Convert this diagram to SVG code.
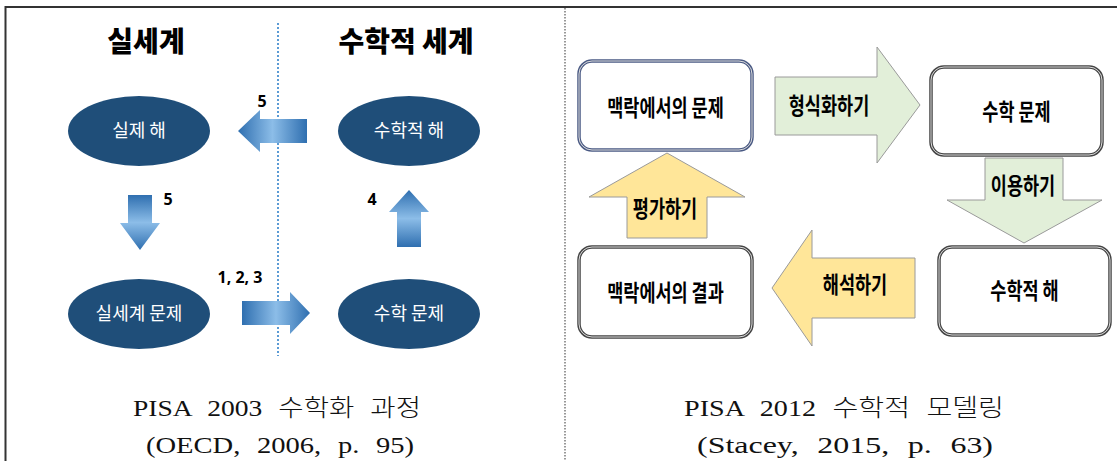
<svg xmlns="http://www.w3.org/2000/svg" width="1117" height="461" viewBox="0 0 1117 461">
<defs>
<style>
.frame{stroke:#333;stroke-width:2;fill:none}
.div{stroke:#555;stroke-width:1.2;stroke-dasharray:1.5,1.5;fill:none}
.blueDot{stroke:#5b9bd5;stroke-width:2;stroke-dasharray:2,2;fill:none}
.ell{fill:#1f4e79}
.ellT{fill:#fff;font-family:"Noto Sans CJK KR",sans-serif;font-size:18px;text-anchor:middle}
.title{fill:#000;font-family:"Noto Sans CJK KR",sans-serif;font-weight:900;font-size:28px;text-anchor:middle}
.num{fill:#000;font-family:"Noto Sans","Liberation Sans",sans-serif;font-weight:bold;font-size:16px;text-anchor:middle}
.cap{fill:#111;font-family:"Liberation Serif","Noto Sans CJK KR",serif;font-size:24px;font-weight:300;word-spacing:8px;text-anchor:middle}
.boxO{fill:#fff;stroke:#444;stroke-width:3.5}
.boxOb{fill:#fff;stroke:#4a5a84;stroke-width:3.5}
.boxI{fill:none;stroke:#ddd;stroke-width:1}
.lb{fill:#000;font-family:"Noto Sans CJK KR",sans-serif;font-weight:bold;font-size:17.5px;text-anchor:middle}
.green{fill:#e2efd9;stroke:#9a9a9a;stroke-width:1}
.yellow{fill:#ffe699;stroke:#9a9a9a;stroke-width:1}
</style>
<linearGradient id="gH" x1="0" y1="0" x2="1" y2="0">
<stop offset="0" stop-color="#2f6fb0"/><stop offset="0.5" stop-color="#8cbde8"/><stop offset="1" stop-color="#2f6fb0"/>
</linearGradient>
<linearGradient id="gV" x1="0" y1="0" x2="0" y2="1">
<stop offset="0" stop-color="#2f6fb0"/><stop offset="0.5" stop-color="#8cbde8"/><stop offset="1" stop-color="#2f6fb0"/>
</linearGradient>
</defs>
<rect width="1117" height="461" fill="#fff"/>
<g id="frame">
<path class="frame" d="M5.5,461 V7 H1117"/>
<line class="div" x1="565" y1="8" x2="565" y2="461"/>
<line class="blueDot" x1="278" y1="23" x2="278" y2="356"/>
</g>
<g id="titles">
<text class="title" x="146" y="52">실세계</text>
<text class="title" x="406" y="52">수학적 세계</text>
</g>
<g id="n-real-sol"><ellipse class="ell" cx="139" cy="131" rx="71" ry="35"/><text class="ellT" x="139" y="137">실제 해</text></g>
<g id="n-math-sol"><ellipse class="ell" cx="409" cy="131" rx="71" ry="35"/><text class="ellT" x="409" y="137">수학적 해</text></g>
<g id="n-real-prob"><ellipse class="ell" cx="139" cy="314" rx="71" ry="35"/><text class="ellT" x="139" y="320">실세계 문제</text></g>
<g id="n-math-prob"><ellipse class="ell" cx="409" cy="314" rx="71" ry="35"/><text class="ellT" x="409" y="320">수학 문제</text></g>
<g id="connectors-left">
<polygon fill="url(#gH)" points="238,131 260,110 260,119 307,119 307,143 260,143 260,152"/>
<polygon fill="url(#gV)" points="128,195 152,195 152,223 160,223 140,250 120,223 128,223"/>
<polygon fill="url(#gV)" points="409,190 429,212 421,212 421,247 397,247 397,212 389,212"/>
<polygon fill="url(#gH)" points="242,301 290,301 290,292 310,313 290,334 290,325 242,325"/>
<text class="num" x="262" y="107">5</text>
<text class="num" x="168" y="205">5</text>
<text class="num" x="372" y="205">4</text>
<text class="num" x="240" y="283">1, 2, 3</text>
</g>
<g id="captions-left">
<text class="cap" x="277" y="416" textLength="288" lengthAdjust="spacingAndGlyphs">PISA 2003 수학화 과정</text>
<text class="cap" x="280" y="453" textLength="268" lengthAdjust="spacingAndGlyphs">(OECD, 2006, p. 95)</text>
</g>
<g id="b-ctx-prob"><rect class="boxOb" x="579" y="61" width="173" height="89" rx="13"/><rect class="boxI" x="579" y="61" width="173" height="89" rx="13"/><text class="lb" transform="translate(665.5,116) scale(1,1.3)">맥락에서의 문제</text></g>
<g id="b-math-prob"><rect class="boxO" x="931" y="67" width="171" height="88" rx="13"/><rect class="boxI" x="931" y="67" width="171" height="88" rx="13"/><text class="lb" transform="translate(1016.5,120) scale(1,1.3)">수학 문제</text></g>
<g id="b-math-sol"><rect class="boxO" x="939" y="247" width="171" height="88" rx="13"/><rect class="boxI" x="939" y="247" width="171" height="88" rx="13"/><text class="lb" transform="translate(1024.5,299) scale(1,1.3)">수학적 해</text></g>
<g id="b-ctx-res"><rect class="boxO" x="579" y="247" width="173" height="90" rx="13"/><rect class="boxI" x="579" y="247" width="173" height="90" rx="13"/><text class="lb" transform="translate(665.5,301) scale(1,1.3)">맥락에서의 결과</text></g>
<g id="connectors-right">
<polygon class="green" points="775,77 877,77 877,47 920,105 877,163 877,135 775,135"/>
<text class="lb" transform="translate(829,114) scale(1,1.3)">형식화하기</text>
<polygon class="green" points="985,158 1063,158 1063,200 1102,200 1024,243 947,200 985,200"/>
<text class="lb" transform="translate(1023,194) scale(1,1.3)">이용하기</text>
<polygon class="yellow" points="667,153 745,197 707,197 707,238 627,238 627,197 589,197"/>
<text class="lb" transform="translate(665,217) scale(1,1.3)">평가하기</text>
<polygon class="yellow" points="772,288 812,230 812,258 915,258 915,318 812,318 812,346"/>
<text class="lb" transform="translate(855,293) scale(1,1.3)">해석하기</text>
</g>
<g id="captions-right">
<text class="cap" x="844" y="416" textLength="320" lengthAdjust="spacingAndGlyphs">PISA 2012 수학적 모델링</text>
<text class="cap" x="845" y="453" textLength="296" lengthAdjust="spacingAndGlyphs">(Stacey, 2015, p. 63)</text>
</g>
</svg>
